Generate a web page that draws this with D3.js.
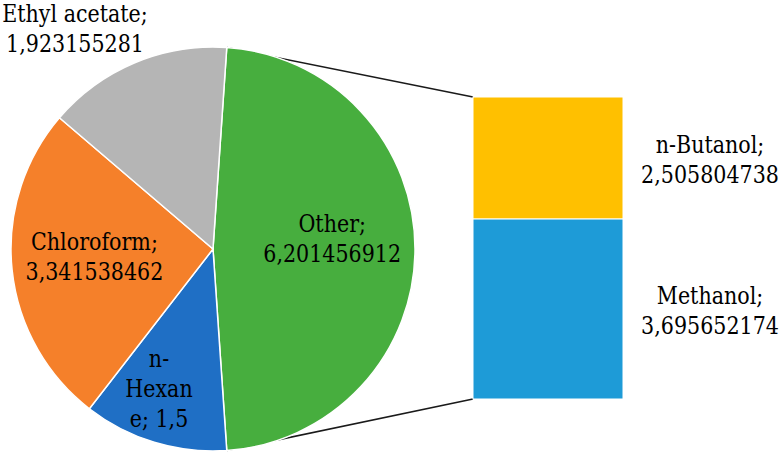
<!DOCTYPE html>
<html>
<head>
<meta charset="utf-8">
<script src="https://cdn.jsdelivr.net/npm/d3@7"></script>
<style>
  body { margin: 0; background: #fff; }
</style>
</head>
<body>
<svg id="chart" width="782" height="452"></svg>
<script>
// pie slices (clockwise from "Other")
var pieNames  = ['Other', 'n-Hexane', 'Chloroform', 'Ethyl acetate'];
var pieValues = [6.201456912, 1.5, 3.341538462, 1.923155281];
var pieLabels = [
    ['Other;', '6,201456912'],
    ['n-', 'Hexan', 'e; 1,5'],
    ['Chloroform;', '3,341538462'],
    ['Ethyl acetate;', '1,923155281']
];
var pieColors = ['#47ae3e', '#1f6fc5', '#f5802a', '#b5b5b5'];

// secondary bar (breakdown of "Other")
var barNames  = ['n-Butanol', 'Methanol'];
var barValues = [2.505804738, 3.695652174];
var barLabels = [
    ['n-Butanol;', '2,505804738'],
    ['Methanol;', '3,695652174']
];
var barColors = ['#ffc000', '#1e9bd7'];

var svg = d3.select('#chart');

var cx = 213, cy = 249, radius = 202;
var fontSize = 24, lineH = 30, squeeze = 0.86;
var serif = "'DejaVu Serif', serif";

var total = d3.sum(pieValues);
var otherSpan = 2 * Math.PI * pieValues[0] / total;
var start = Math.PI / 2 - otherSpan / 2;

var pie = d3.pie().sort(null).value(function(d) { return d; })
    .startAngle(start).endAngle(start + 2 * Math.PI);
var arcs = pie(pieValues);
var arc = d3.arc().innerRadius(0).outerRadius(radius);

// bar geometry
var barX = 473, barW = 150;
var barY = d3.scaleLinear().domain([0, d3.sum(barValues)]).range([97, 399]);
var barStack = [];
var acc = 0;
barValues.forEach(function(v, i) {
    barStack.push({ name: barNames[i], y0: acc, y1: acc + v, i: i });
    acc += v;
});

// connector lines drawn under the pie
var pt = function(a) { return [cx + radius * Math.sin(a), cy - radius * Math.cos(a)]; };
var pA = pt(arcs[0].startAngle), pB = pt(arcs[0].endAngle);
svg.append('g').attr('class', 'connectors')
    .selectAll('line')
    .data([[pA, [barX, barY(0)]], [pB, [barX, barY(d3.sum(barValues))]]])
    .enter().append('line')
        .attr('x1', function(d) { return d[0][0]; })
        .attr('y1', function(d) { return d[0][1]; })
        .attr('x2', function(d) { return d[1][0]; })
        .attr('y2', function(d) { return d[1][1]; })
        .attr('stroke', '#1a1a1a')
        .attr('stroke-width', 1.6);

var g = svg.append('g').attr('transform', 'translate(' + cx + ',' + cy + ')');
g.selectAll('path')
    .data(arcs)
    .enter().append('path')
        .attr('d', arc)
        .attr('fill', function(d, i) { return pieColors[i]; })
        .attr('stroke', '#fff')
        .attr('stroke-width', 1.5);

svg.append('g').selectAll('rect')
    .data(barStack)
    .enter().append('rect')
        .attr('x', barX)
        .attr('y', function(d) { return barY(d.y0); })
        .attr('width', barW)
        .attr('height', function(d) { return barY(d.y1) - barY(d.y0); })
        .attr('fill', function(d) { return barColors[d.i]; })
        .attr('stroke', '#fff')
        .attr('stroke-width', 1);

// label placement: centroid on a 0.59r ring plus a nudge, or set by hand
var labelArc = d3.arc().innerRadius(radius * 0.59).outerRadius(radius * 0.59);
var pieLabelPos = [
    function(a) { var c = labelArc.centroid(a); return [c[0] + cx, c[1] + cy - 10]; },
    function(a) { return [159, 389]; },
    function(a) { var c = labelArc.centroid(a); return [c[0] + cx, c[1] + cy - 5]; },
    function(a) { return [75, 29]; }
];

// DejaVu Serif is wider than the Times face in the original, so squeeze it
var drawLines = function(sel, lines, x, y) {
    var t = sel.append('g')
        .attr('transform', 'translate(' + x + ',' + y + ') scale(' + squeeze + ',1)')
        .append('text')
        .attr('text-anchor', 'middle')
        .style('font-family', serif)
        .style('font-size', fontSize + 'px')
        .attr('fill', '#000');
    var n = lines.length;
    lines.forEach(function(s, k) {
        t.append('tspan')
            .attr('x', 0)
            .attr('y', (k - (n - 1) / 2) * lineH)
            .attr('dy', '0.35em')
            .text(s);
    });
};

var lg = svg.append('g').attr('class', 'labels');
arcs.forEach(function(a, i) {
    var p = pieLabelPos[i](a);
    drawLines(lg, pieLabels[i], p[0], p[1]);
});
barStack.forEach(function(d) {
    var mid = (barY(d.y0) + barY(d.y1)) / 2;
    drawLines(lg, barLabels[d.i], 710, mid + 2);
});
</script>
</body>
</html>
